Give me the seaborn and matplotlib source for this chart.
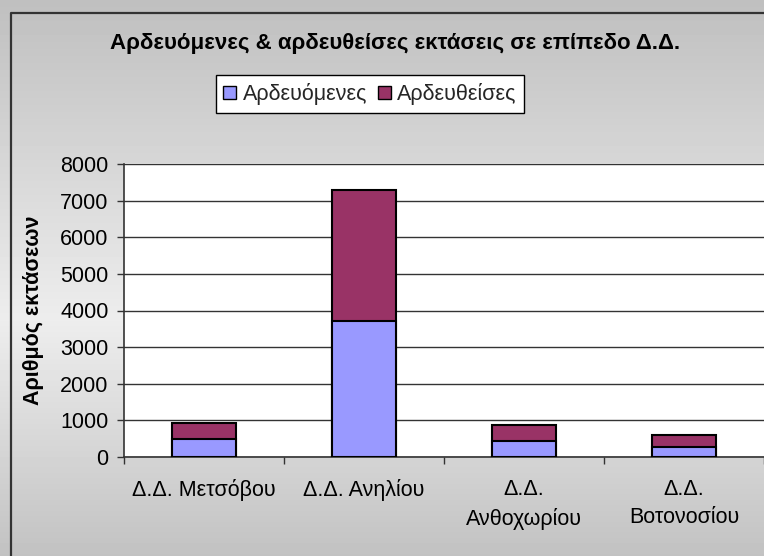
import numpy as np
import pandas as pd
import matplotlib
matplotlib.use("Agg")
import matplotlib.pyplot as plt
from matplotlib.patches import Patch
from matplotlib.lines import Line2D
import seaborn as sns

# data
villages = ["Δ.Δ. Μετσόβου", "Δ.Δ. Ανηλίου", "Δ.Δ.\nΑνθοχωρίου", "Δ.Δ.\nΒοτονοσίου"]
ardevomenes = [490, 3700, 435, 265]
ardeftheises = [435, 3590, 445, 335]
y_ticks = [0, 1000, 2000, 3000, 4000, 5000, 6000, 7000, 8000]

blue = "#9999ff"
maroon = "#993366"

sns.set_theme(style="white")
plt.rcParams["font.family"] = ["Liberation Sans", "DejaVu Sans"]

df = pd.DataFrame({"village": villages,
                   "Αρδευόμενες": ardevomenes,
                   "Αρδευθείσες": ardeftheises})
df["total"] = df["Αρδευόμενες"] + df["Αρδευθείσες"]

W, H = 764, 556
fig = plt.figure(figsize=(W / 100, H / 100), dpi=100)

# grey gradient background of the chart area
bg = fig.add_axes([0, 0, 1, 1], zorder=-10)
rows = np.arange(H)
shade = np.interp(rows, [0, 320, H], [0.75, 0.93, 0.76])
bg.imshow(np.repeat(shade[:, None], 2, axis=1), cmap="gray", vmin=0, vmax=1,
          aspect="auto", extent=[0, 1, 0, 1])
bg.set_axis_off()

# chart border (the reference is cropped on the right and bottom)
fig.add_artist(Line2D([11 / W, 11 / W, 1.01], [-0.01, 1 - 12.5 / H, 1 - 12.5 / H],
                      transform=fig.transFigure, color="#333333", lw=1.6))

ax = fig.add_axes([124 / W, 1 - 457 / H, 1 - 124 / W + 0.01, (457 - 164) / H])
ax.set_facecolor("white")

sns.barplot(data=df, x="village", y="total", color=maroon, width=0.4,
            edgecolor="black", linewidth=1.5, saturation=1, ax=ax, zorder=3)
sns.barplot(data=df, x="village", y="Αρδευόμενες", color=blue, width=0.4,
            edgecolor="black", linewidth=1.5, saturation=1, ax=ax, zorder=4)

ax.set_xlim(-0.5, 3.5 + 0.01 * W / 640 * 4)
ax.set_ylim(0, 8000)
ax.set_yticks(y_ticks)
ax.set_yticklabels([str(v) for v in y_ticks], fontsize=15.5, color="black")
ax.yaxis.grid(True, color="#333333", lw=1)
ax.set_axisbelow(True)

ax.set_xticks(range(len(villages)))
ax.set_xticklabels(villages, fontsize=15.5, color="black", linespacing=1.45)
ax.set_xticks([-0.5, 0.5, 1.5, 2.5, 3.5], minor=True)
ax.tick_params(axis="x", which="major", length=0, pad=16)
ax.tick_params(axis="x", which="minor", length=5, width=1, color="#333333",
               direction="out", bottom=True)
ax.tick_params(axis="y", length=5, width=1, color="#333333", direction="out",
               left=True, pad=6)

for s in ["top", "right"]:
    ax.spines[s].set_visible(False)
for s in ["left", "bottom"]:
    ax.spines[s].set_color("#333333")
    ax.spines[s].set_linewidth(1.2)

ax.set_xlabel("")
ax.set_ylabel("Αριθμός εκτάσεων", fontsize=15.5, fontweight="bold", color="black")
ax.yaxis.set_label_coords(-0.124, 0.5)

fig.text(395 / W, 1 - 43 / H, "Αρδευόμενες & αρδευθείσες εκτάσεις σε επίπεδο Δ.Δ.",
         ha="center", va="center", fontsize=16, fontweight="bold", color="black")

handles = [Patch(facecolor=blue, edgecolor="black", lw=1, label="Αρδευόμενες"),
           Patch(facecolor=maroon, edgecolor="black", lw=1, label="Αρδευθείσες")]
leg = fig.legend(handles=handles, loc="center", bbox_to_anchor=(370 / W, 1 - 94 / H),
                 ncol=2, fontsize=15.5, frameon=True, fancybox=False, framealpha=1,
                 edgecolor="black", handlelength=0.6, handleheight=0.6,
                 handletextpad=0.3, columnspacing=0.5, borderpad=0.35,
                 borderaxespad=0)
leg.get_frame().set_linewidth(1)

fig.savefig("out.png", dpi=100)
